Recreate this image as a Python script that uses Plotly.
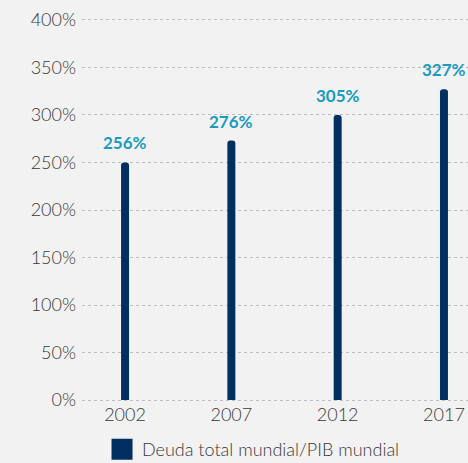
import plotly.graph_objects as go

years = ["2002", "2007", "2012", "2017"]
bar_values = [250, 273, 300, 327]
value_labels = ["256%", "276%", "305%", "327%"]
series_name = "Deuda total mundial/PIB mundial"
y_ticks = [0, 50, 100, 150, 200, 250, 300, 350, 400]
y_tick_labels = [f"{v}%" for v in y_ticks]

navy = "#00305f"
teal = "#1a9cc0"
bg = "#f2f2f2"
text_col = "#383838"
font_family = "Lato, 'Open Sans', sans-serif"

fig = go.Figure()
fig.add_trace(go.Bar(
    x=years, y=bar_values, width=0.075,
    marker=dict(color=navy, line=dict(width=0)),
    showlegend=False, hoverinfo="skip",
))
fig.add_trace(go.Scatter(
    x=[None], y=[None], mode="markers", name=series_name,
    marker=dict(symbol="square", size=16, color=navy, line=dict(color=navy, width=5)),
))

annotations = [
    dict(x=i, y=val, xref="x", yref="y", text=lab, showarrow=False,
         yanchor="bottom", xanchor="center", yshift=7,
         font=dict(color=teal, size=17, family=font_family, weight="bold"))
    for i, (val, lab) in enumerate(zip(bar_values, value_labels))
]

fig.update_layout(
    width=468, height=463,
    paper_bgcolor=bg, plot_bgcolor=bg,
    margin=dict(l=82, r=0, t=18, b=61),
    barcornerradius=4,
    font=dict(family=font_family, color=text_col, size=18),
    xaxis=dict(type="category", range=[-0.405, 3.226], showgrid=False, zeroline=False,
               showline=False, ticks="", automargin=False,
               tickfont=dict(size=18, color=text_col, weight=300)),
    yaxis=dict(range=[-2, 402], tickvals=y_ticks, ticktext=y_tick_labels,
               showgrid=True, gridcolor="#bdbdbd", griddash="3px,3px", gridwidth=1,
               zeroline=False, showline=False, ticks="", automargin=False,
               ticklabelstandoff=5,
               tickfont=dict(size=18, color=text_col, weight=300)),
    legend=dict(orientation="h", xref="container", yref="container",
                x=0.218, xanchor="left", y=0.029, yanchor="middle",
                font=dict(size=18, color=text_col, weight=300), bgcolor="rgba(0,0,0,0)"),
    annotations=annotations,
)

fig.write_html("out.html", config={"displayModeBar": False},
               post_script="document.body.style.margin='0';")
